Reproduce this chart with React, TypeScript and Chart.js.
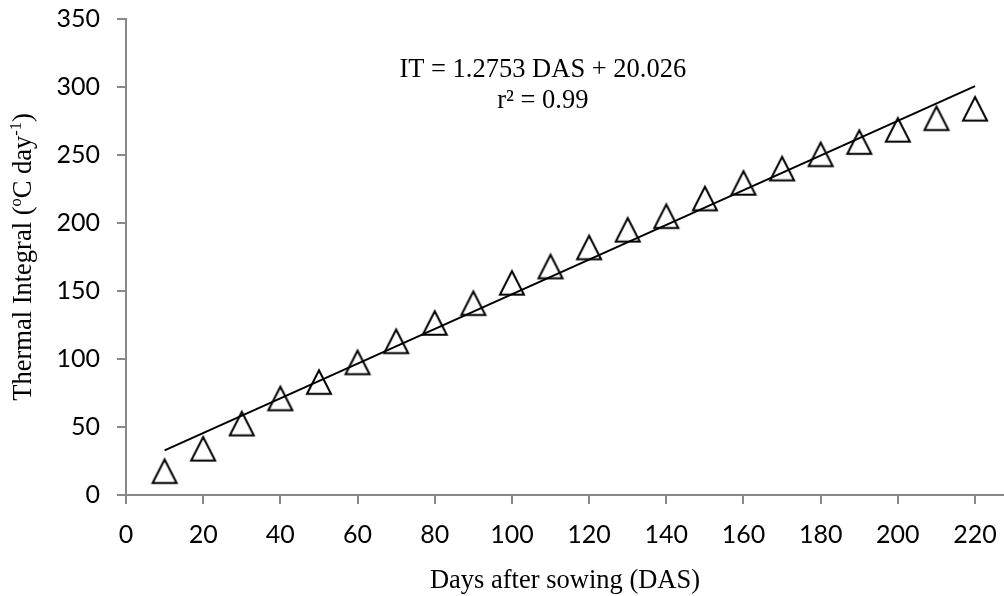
import React, { useEffect, useRef } from "react";
import { Chart, registerables } from "chart.js";

Chart.register(...registerables);

// ---- data ----
const DAS = [10, 20, 30, 40, 50, 60, 70, 80, 90, 100, 110, 120, 130, 140, 150, 160, 170, 180, 190, 200, 210, 220];
const THERMAL_INTEGRAL = [17.5, 34, 52.5, 71, 83, 97.5, 113, 126.5, 141, 156, 168, 182, 195, 205, 218, 229.5, 240, 250.5, 259.5, 268.5, 277, 284];
const TREND_X = [10, 220];
const TREND_Y = [32.8, 300.6];
const Y_TICKS = [0, 50, 100, 150, 200, 250, 300, 350];
const X_TICKS = [0, 20, 40, 60, 80, 100, 120, 140, 160, 180, 200, 220];

const EQUATION = "IT = 1.2753 DAS + 20.026";
const R2 = "r\u00B2 = 0.99";
const X_TITLE = "Days after sowing (DAS)";
const Y_TITLE_SEGMENTS: { t: string; sup?: boolean }[] = [
  { t: "Thermal Integral (" },
  { t: "o", sup: true },
  { t: "C day" },
  { t: "-1", sup: true },
  { t: ")" },
];

const SERIF = '"Liberation Serif", "Times New Roman", serif';
const TITLE_SIZE = 26.5;

function makeTriangle(): HTMLCanvasElement {
  const c = document.createElement("canvas");
  c.width = 30;
  c.height = 30;
  const g = c.getContext("2d")!;
  g.strokeStyle = "#000";
  g.lineWidth = 2;
  g.lineJoin = "miter";
  g.beginPath();
  g.moveTo(15, 3.2);
  g.lineTo(27, 26.8);
  g.lineTo(3, 26.8);
  g.closePath();
  g.stroke();
  return c;
}

function drawRich(ctx: CanvasRenderingContext2D, segs: { t: string; sup?: boolean }[], cx: number, baseline: number) {
  const norm = `${TITLE_SIZE}px ${SERIF}`;
  const small = `${TITLE_SIZE * 0.62}px ${SERIF}`;
  let total = 0;
  const widths = segs.map((s) => {
    ctx.font = s.sup ? small : norm;
    const w = ctx.measureText(s.t).width;
    total += w;
    return w;
  });
  let x = cx - total / 2;
  ctx.textAlign = "left";
  segs.forEach((s, i) => {
    ctx.font = s.sup ? small : norm;
    ctx.fillText(s.t, x, s.sup ? baseline - TITLE_SIZE * 0.36 : baseline);
    x += widths[i];
  });
}

const textPlugin = {
  id: "annotTexts",
  afterDraw(chart: any) {
    const ctx: CanvasRenderingContext2D = chart.ctx;
    const xs = chart.scales.x;
    const ys = chart.scales.y;
    const area = chart.chartArea;
    ctx.save();
    ctx.fillStyle = "#000";
    ctx.textBaseline = "alphabetic";
    ctx.textAlign = "center";
    ctx.font = `${TITLE_SIZE}px ${SERIF}`;
    const ex = xs.getPixelForValue(108);
    ctx.fillText(EQUATION, ex, ys.getPixelForValue(307));
    ctx.fillText(R2, ex, ys.getPixelForValue(284.3));
    // x axis title (centred on the plot area)
    ctx.fillText(X_TITLE, (area.left + area.right) / 2, area.bottom + 93);
    // y axis title (centred on the plot area)
    ctx.translate(area.left - 95, (area.top + area.bottom) / 2);
    ctx.rotate(-Math.PI / 2);
    drawRich(ctx, Y_TITLE_SEGMENTS, 0, 0);
    ctx.restore();
  },
};

const zeroPad = (s: any) => {
  s.paddingTop = 0;
  s.paddingBottom = 0;
  s.paddingLeft = 0;
  s.paddingRight = 0;
};

export default function App() {
  const ref = useRef<HTMLCanvasElement | null>(null);
  useEffect(() => {
    if (!ref.current) return;
    const tri = makeTriangle();
    const chart = new Chart(ref.current, {
      type: "scatter",
      data: {
        datasets: [
          {
            type: "line",
            label: "trend",
            data: TREND_X.map((x, i) => ({ x, y: TREND_Y[i] })),
            borderColor: "#000",
            borderWidth: 2,
            pointRadius: 0,
            fill: false,
          },
          {
            label: "IT",
            data: DAS.map((x, i) => ({ x, y: THERMAL_INTEGRAL[i] })),
            pointStyle: tri as any,
            pointRadius: 13,
            borderColor: "#000",
            backgroundColor: "transparent",
            clip: false,
          },
        ],
      },
      options: {
        animation: false,
        responsive: false,
        devicePixelRatio: 1,
        layout: { autoPadding: false, padding: { left: 0, right: 0, top: 19, bottom: 0 } },
        plugins: { legend: { display: false }, tooltip: { enabled: false } },
        scales: {
          x: {
            type: "linear",
            min: 0,
            max: 227.5,
            afterFit: (s: any) => {
              s.height = 101;
              zeroPad(s);
            },
            afterBuildTicks: (s: any) => {
              s.ticks = X_TICKS.map((v) => ({ value: v }));
            },
            ticks: {
              font: { family: "Lato", size: 25 },
              color: "#000",
              padding: 16,
              maxRotation: 0,
              autoSkip: false,
              includeBounds: false,
            },
            grid: {
              display: true,
              drawOnChartArea: false,
              drawTicks: true,
              tickLength: 9,
              color: "#888888",
              lineWidth: 2,
            },
            border: { display: true, color: "#888888", width: 2 },
          },
          y: {
            type: "linear",
            min: 0,
            max: 350,
            afterFit: (s: any) => {
              s.width = 126;
              zeroPad(s);
            },
            afterBuildTicks: (s: any) => {
              s.ticks = Y_TICKS.map((v) => ({ value: v }));
            },
            ticks: {
              font: { family: "Lato", size: 25 },
              color: "#000",
              padding: 17,
              autoSkip: false,
            },
            grid: {
              display: true,
              drawOnChartArea: false,
              drawTicks: true,
              tickLength: 9,
              color: "#888888",
              lineWidth: 2,
            },
            border: { display: true, color: "#888888", width: 2 },
          },
        },
      },
      plugins: [textPlugin],
    });
    return () => chart.destroy();
  }, []);
  return (
    <div style={{ position: "absolute", left: 0, top: 0, width: 1004, height: 596, background: "#fff" }}>
      <canvas ref={ref} width={1004} height={596} style={{ width: 1004, height: 596 }} />
    </div>
  );
}
